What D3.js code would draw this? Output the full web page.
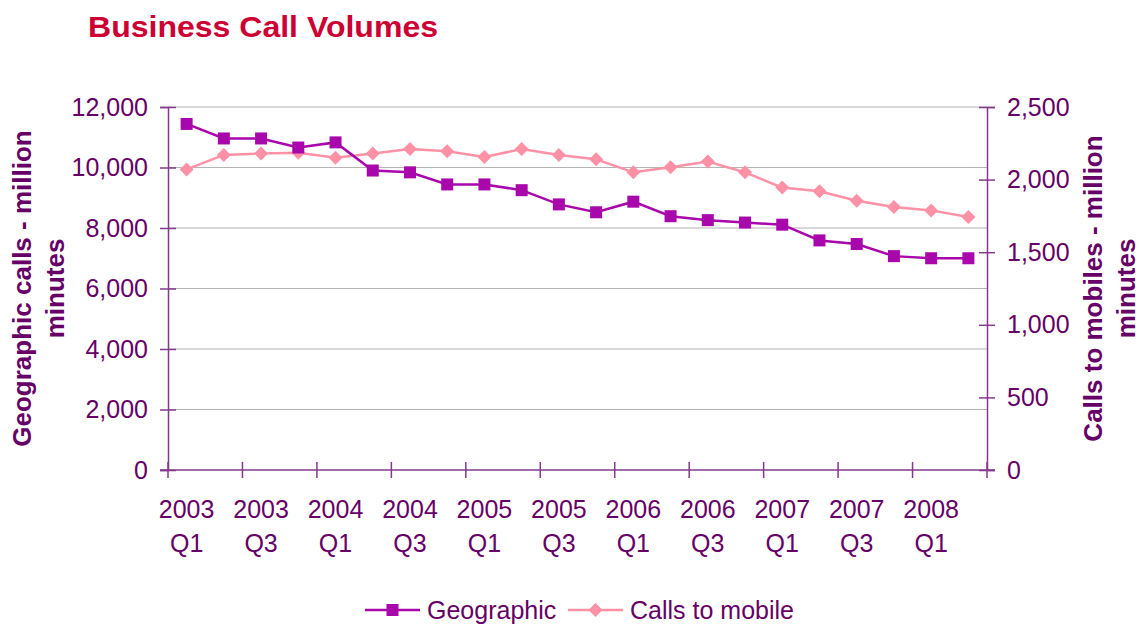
<!DOCTYPE html>
<html>
<head>
<meta charset="utf-8">
<script src="https://cdn.jsdelivr.net/npm/d3@7"></script>
<style>
  html, body { margin: 0; padding: 0; background: #fff; }
  svg { display: block; font-family: "Liberation Sans", Arial, sans-serif; }
</style>
</head>
<body>
<svg id="chart" width="1144" height="626"></svg>
<script>
// ---- Data ----
const quarters = [
  "2003 Q1","2003 Q2","2003 Q3","2003 Q4",
  "2004 Q1","2004 Q2","2004 Q3","2004 Q4",
  "2005 Q1","2005 Q2","2005 Q3","2005 Q4",
  "2006 Q1","2006 Q2","2006 Q3","2006 Q4",
  "2007 Q1","2007 Q2","2007 Q3","2007 Q4",
  "2008 Q1","2008 Q2"
];
const geographic = [11440, 10960, 10960, 10660, 10830, 9900, 9840, 9440, 9440, 9250, 8780,
                    8520, 8870, 8390, 8260, 8180, 8110, 7590, 7470, 7070, 7000, 7000];
const callsToMobile = [2070, 2170, 2180, 2185, 2150, 2180, 2210, 2195, 2155, 2210, 2170,
                       2140, 2050, 2085, 2125, 2050, 1945, 1920, 1855, 1812, 1788, 1742];
const leftTicks = [0, 2000, 4000, 6000, 8000, 10000, 12000];
const rightTicks = [0, 500, 1000, 1500, 2000, 2500];
const seriesNames = ["Geographic", "Calls to mobile"];

// ---- Layout ----
const svg = d3.select("#chart");
const pLeft = 168, pRight = 987, pTop = 107, pBottom = 470;
const textColor = "#660066";
const axisColor = "#823a8a";
const geoColor = "#a807ab";
const mobColor = "#ff91a6";

const x = d3.scaleBand().domain(quarters).range([pLeft, pRight]).padding(0);
const yL = d3.scaleLinear().domain([0, 12000]).range([pBottom, pTop]);
const yR = d3.scaleLinear().domain([0, 2500]).range([pBottom, pTop]);
const fmt = d3.format(",");

// Title
svg.append("text").attr("x", 88).attr("y", 37)
  .attr("font-size", 30).attr("font-weight", "bold").attr("fill", "#cc0033")
  .attr("textLength", 350).attr("lengthAdjust", "spacingAndGlyphs")
  .text("Business Call Volumes");

// Gridlines
svg.append("g").selectAll("line").data(leftTicks.filter(d => d > 0)).join("line")
  .attr("x1", pLeft).attr("x2", pRight)
  .attr("y1", d => yL(d)).attr("y2", d => yL(d))
  .attr("stroke", "#b4b4b4").attr("stroke-width", 1.2);

// Left axis
const gL = svg.append("g").attr("transform", `translate(${pLeft},0)`)
  .call(d3.axisLeft(yL).tickValues(leftTicks).tickFormat(fmt).tickSize(8).tickPadding(12));
gL.select(".domain").attr("stroke", axisColor).attr("stroke-width", 1.5);
gL.selectAll(".tick line").attr("stroke", axisColor).attr("x2", -8).attr("x1", 8).attr("stroke-width", 1.5);
gL.selectAll(".tick text").attr("fill", textColor).attr("font-size", 25)
  .attr("font-family", "Liberation Sans, Arial, sans-serif").attr("x", -20);

// Right axis
const gR = svg.append("g").attr("transform", `translate(${pRight},0)`)
  .call(d3.axisRight(yR).tickValues(rightTicks).tickFormat(fmt).tickSize(8).tickPadding(12));
gR.select(".domain").attr("stroke", axisColor).attr("stroke-width", 1.5);
gR.selectAll(".tick line").attr("stroke", axisColor).attr("x1", -8).attr("x2", 8).attr("stroke-width", 1.5);
gR.selectAll(".tick text").attr("fill", textColor).attr("font-size", 25)
  .attr("font-family", "Liberation Sans, Arial, sans-serif").attr("x", 20);

// Bottom axis (ticks at every other category boundary)
const boundaryTicks = quarters.filter((d, i) => i % 2 === 0);
const gB = svg.append("g").attr("transform", `translate(0,${pBottom})`);
gB.append("line").attr("x1", pLeft - 8).attr("x2", pRight + 8).attr("y1", 0).attr("y2", 0)
  .attr("stroke", axisColor).attr("stroke-width", 1.5);
gB.selectAll("line.tk").data(boundaryTicks.concat([null])).join("line").attr("class", "tk")
  .attr("x1", d => d === null ? pRight : x(d)).attr("x2", d => d === null ? pRight : x(d))
  .attr("y1", -8).attr("y2", 8).attr("stroke", axisColor).attr("stroke-width", 1.5);
const labels = gB.selectAll("text.lbl").data(boundaryTicks).join("text").attr("class", "lbl")
  .attr("text-anchor", "middle").attr("fill", textColor).attr("font-size", 25)
  .attr("transform", d => `translate(${x(d) + x.bandwidth() / 2},0)`);
labels.append("tspan").attr("x", 0).attr("y", 48).text(d => d.split(" ")[0]);
labels.append("tspan").attr("x", 0).attr("y", 82).text(d => d.split(" ")[1]);

// Axis titles
function axisTitle(cx, lines) {
  const t = svg.append("text").attr("transform", `translate(${cx},288.5) rotate(-90)`)
    .attr("text-anchor", "middle").attr("fill", textColor)
    .attr("font-size", 26).attr("font-weight", "bold");
  lines.forEach((l, i) => t.append("tspan").attr("x", 0).attr("y", i * 33).text(l));
}
axisTitle(31, ["Geographic calls - million", "minutes"]);
axisTitle(1102, ["Calls to mobiles - million", "minutes"]);

// Lines
const cx = d => x(d) + x.bandwidth() / 2;
svg.append("path").datum(quarters)
  .attr("fill", "none").attr("stroke", mobColor).attr("stroke-width", 2.5)
  .attr("d", d3.line().x(cx).y((d, i) => yR(callsToMobile[i])));
svg.append("g").selectAll("path").data(quarters).join("path")
  .attr("transform", (d, i) => `translate(${cx(d)},${yR(callsToMobile[i])})`)
  .attr("d", "M0,-7L7,0L0,7L-7,0Z").attr("fill", mobColor);

svg.append("path").datum(quarters)
  .attr("fill", "none").attr("stroke", geoColor).attr("stroke-width", 2.5)
  .attr("d", d3.line().x(cx).y((d, i) => yL(geographic[i])));
svg.append("g").selectAll("rect").data(quarters).join("rect")
  .attr("x", d => cx(d) - 6).attr("y", (d, i) => yL(geographic[i]) - 6)
  .attr("width", 12).attr("height", 12).attr("fill", geoColor);

// Legend
const legend = svg.append("g");
const legItems = [
  { name: seriesNames[0], color: geoColor, x0: 365, shape: "square" },
  { name: seriesNames[1], color: mobColor, x0: 568, shape: "diamond" }
];
legItems.forEach(it => {
  const g = legend.append("g").attr("transform", `translate(${it.x0},610)`);
  g.append("line").attr("x1", 0).attr("x2", 55).attr("stroke", it.color).attr("stroke-width", 2.5);
  if (it.shape === "square") {
    g.append("rect").attr("x", 21.5).attr("y", -6).attr("width", 12).attr("height", 12).attr("fill", it.color);
  } else {
    g.append("path").attr("d", "M27.5,-7L34.5,0L27.5,7L20.5,0Z").attr("fill", it.color);
  }
  g.append("text").attr("x", 62).attr("y", 9).attr("fill", textColor).attr("font-size", 25).text(it.name);
});
</script>
</body>
</html>
